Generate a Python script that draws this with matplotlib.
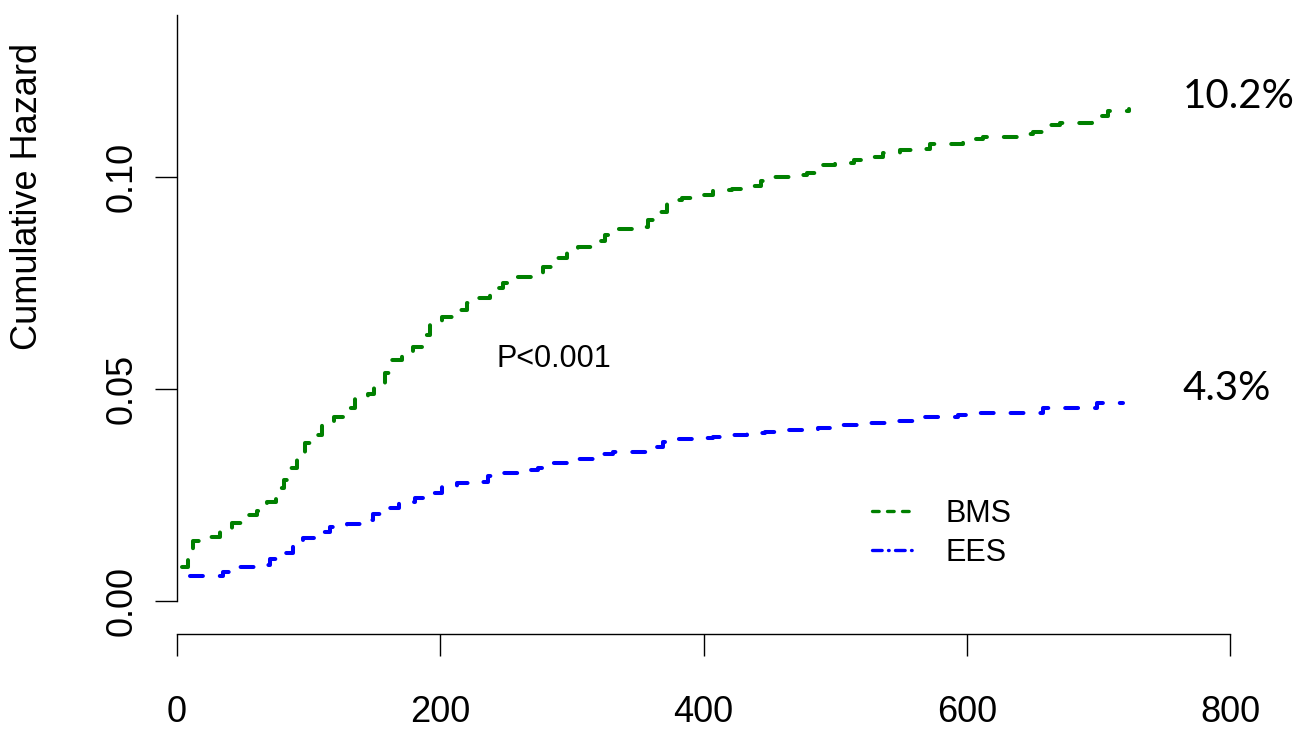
import matplotlib
matplotlib.use("Agg")
import matplotlib.pyplot as plt
from matplotlib.lines import Line2D

plt.rcParams['font.family'] = ['Liberation Sans', 'DejaVu Sans']

# cumulative hazard (days, hazard)
bms_t = [4, 8, 12, 24, 33, 42, 50, 61, 68, 75, 81, 86, 91, 97, 103, 110,
         119, 128, 135, 145, 150, 158, 163, 171, 179, 187, 192, 201, 210, 220,
         229, 238, 248, 257, 270, 278, 286, 296, 305, 316, 325, 335, 348, 358,
         365, 372, 384, 392, 397, 407, 422, 432, 444, 453, 467, 479, 489, 500,
         514, 525, 536, 549, 563, 572, 587, 597, 612, 624, 638, 650, 659, 671,
         686, 695, 707, 723]
bms_y = [0.0080, 0.0113, 0.0142, 0.0151, 0.0172, 0.0184, 0.0203, 0.0212,
         0.0233, 0.0267, 0.0285, 0.0314, 0.0340, 0.0373, 0.0392, 0.0420,
         0.0434, 0.0455, 0.0476, 0.0488, 0.0514, 0.0538, 0.0568, 0.0587,
         0.0599, 0.0627, 0.0651, 0.0670, 0.0686, 0.0703, 0.0715, 0.0738,
         0.0750, 0.0764, 0.0769, 0.0788, 0.0809, 0.0823, 0.0835, 0.0849,
         0.0863, 0.0877, 0.0882, 0.0899, 0.0917, 0.0946, 0.0950, 0.0955,
         0.0958, 0.0969, 0.0972, 0.0979, 0.0991, 0.1000, 0.1005, 0.1009,
         0.1028, 0.1033, 0.1040, 0.1047, 0.1057, 0.1064, 0.1066, 0.1078,
         0.1078, 0.1090, 0.1094, 0.1094, 0.1101, 0.1106, 0.1123, 0.1127,
         0.1127, 0.1144, 0.1156, 0.1160]

ees_t = [10, 24, 35, 46, 59, 71, 80, 88, 96, 106, 116, 129, 139, 149, 160,
         169, 181, 191, 201, 213, 225, 236, 248, 261, 274, 283, 296, 309, 319,
         331, 346, 358, 369, 381, 395, 407, 420, 433, 447, 460, 473, 487, 498,
         514, 525, 539, 552, 566, 580, 593, 605, 620, 633, 648, 658, 673, 688,
         699, 719]
ees_y = [0.0059, 0.0059, 0.0068, 0.0080, 0.0085, 0.0099, 0.0113, 0.0130,
         0.0149, 0.0163, 0.0175, 0.0182, 0.0191, 0.0205, 0.0219, 0.0233,
         0.0243, 0.0255, 0.0269, 0.0278, 0.0281, 0.0295, 0.0302, 0.0309,
         0.0314, 0.0325, 0.0335, 0.0335, 0.0347, 0.0351, 0.0351, 0.0363,
         0.0375, 0.0382, 0.0384, 0.0387, 0.0392, 0.0396, 0.0399, 0.0403,
         0.0403, 0.0408, 0.0415, 0.0415, 0.0420, 0.0425, 0.0425, 0.0434,
         0.0434, 0.0439, 0.0443, 0.0443, 0.0443, 0.0443, 0.0455, 0.0455,
         0.0455, 0.0467, 0.0467]

x_ticks = [0, 200, 400, 600, 800]
y_ticks = [0.00, 0.05, 0.10]
y_ticklabels = ["0.00", "0.05", "0.10"]

green = "#008000"
blue = "#0000FF"

fig = plt.figure(figsize=(13.05, 7.30), dpi=100)
ax = fig.add_axes([177 / 1305, 96 / 730, 1053 / 1305, 619 / 730])

ax.plot(bms_t, bms_y, drawstyle='steps-post', color=green, lw=2.9,
        linestyle=(0, (3.2, 4.2)), dash_capstyle='round', clip_on=False)
ax.plot(ees_t, ees_y, drawstyle='steps-post', color=blue, lw=2.9,
        linestyle=(0, (3.2, 4.2)), dash_capstyle='round', clip_on=False)

ax.set_xlim(0, 800)
ax.set_ylim(-0.00778, 0.1382)
for s in ['top', 'right']:
    ax.spines[s].set_visible(False)
ax.spines['left'].set_bounds(0, 0.1382)
ax.spines['bottom'].set_bounds(0, 800)
for s in ['left', 'bottom']:
    ax.spines[s].set_linewidth(1.0)

ax.set_xticks(x_ticks)
ax.set_yticks(y_ticks)
ax.set_yticklabels(y_ticklabels, rotation=90, va='center')
ax.tick_params(axis='both', length=15.8, width=1.0, labelsize=26)
ax.tick_params(axis='x', pad=28)
ax.tick_params(axis='y', pad=11)

fig.text(28 / 1305, 1 - 197 / 730, "Cumulative Hazard", rotation=90,
         ha='center', va='center', fontsize=26)

ax.text(286, 0.0571, "P<0.001", ha='center', va='center', fontsize=22)
ax.text(764, 0.1189, "10.2%", ha='left', va='center', fontsize=29,
        family=['Lato', 'DejaVu Sans'], clip_on=False)
ax.text(764, 0.0502, "4.3%", ha='left', va='center', fontsize=29,
        family=['Lato', 'DejaVu Sans'], clip_on=False)

handles = [Line2D([], [], color=green, lw=2.4, linestyle=(0, (2.0, 2.5)),
                  dash_capstyle='round'),
           Line2D([], [], color=blue, lw=2.4,
                  linestyle=(0, (2.9, 1.9, 0.2, 1.9)), dash_capstyle='round')]
ax.legend(handles, ["BMS", "EES"], loc='upper left',
          bbox_to_anchor=(872 / 1305, 1 - 499 / 730),
          bbox_transform=fig.transFigure, frameon=False, fontsize=22,
          handlelength=1.34, handletextpad=1.05, labelspacing=0.3,
          borderpad=0, borderaxespad=0)

fig.savefig("out.png", dpi=100)
